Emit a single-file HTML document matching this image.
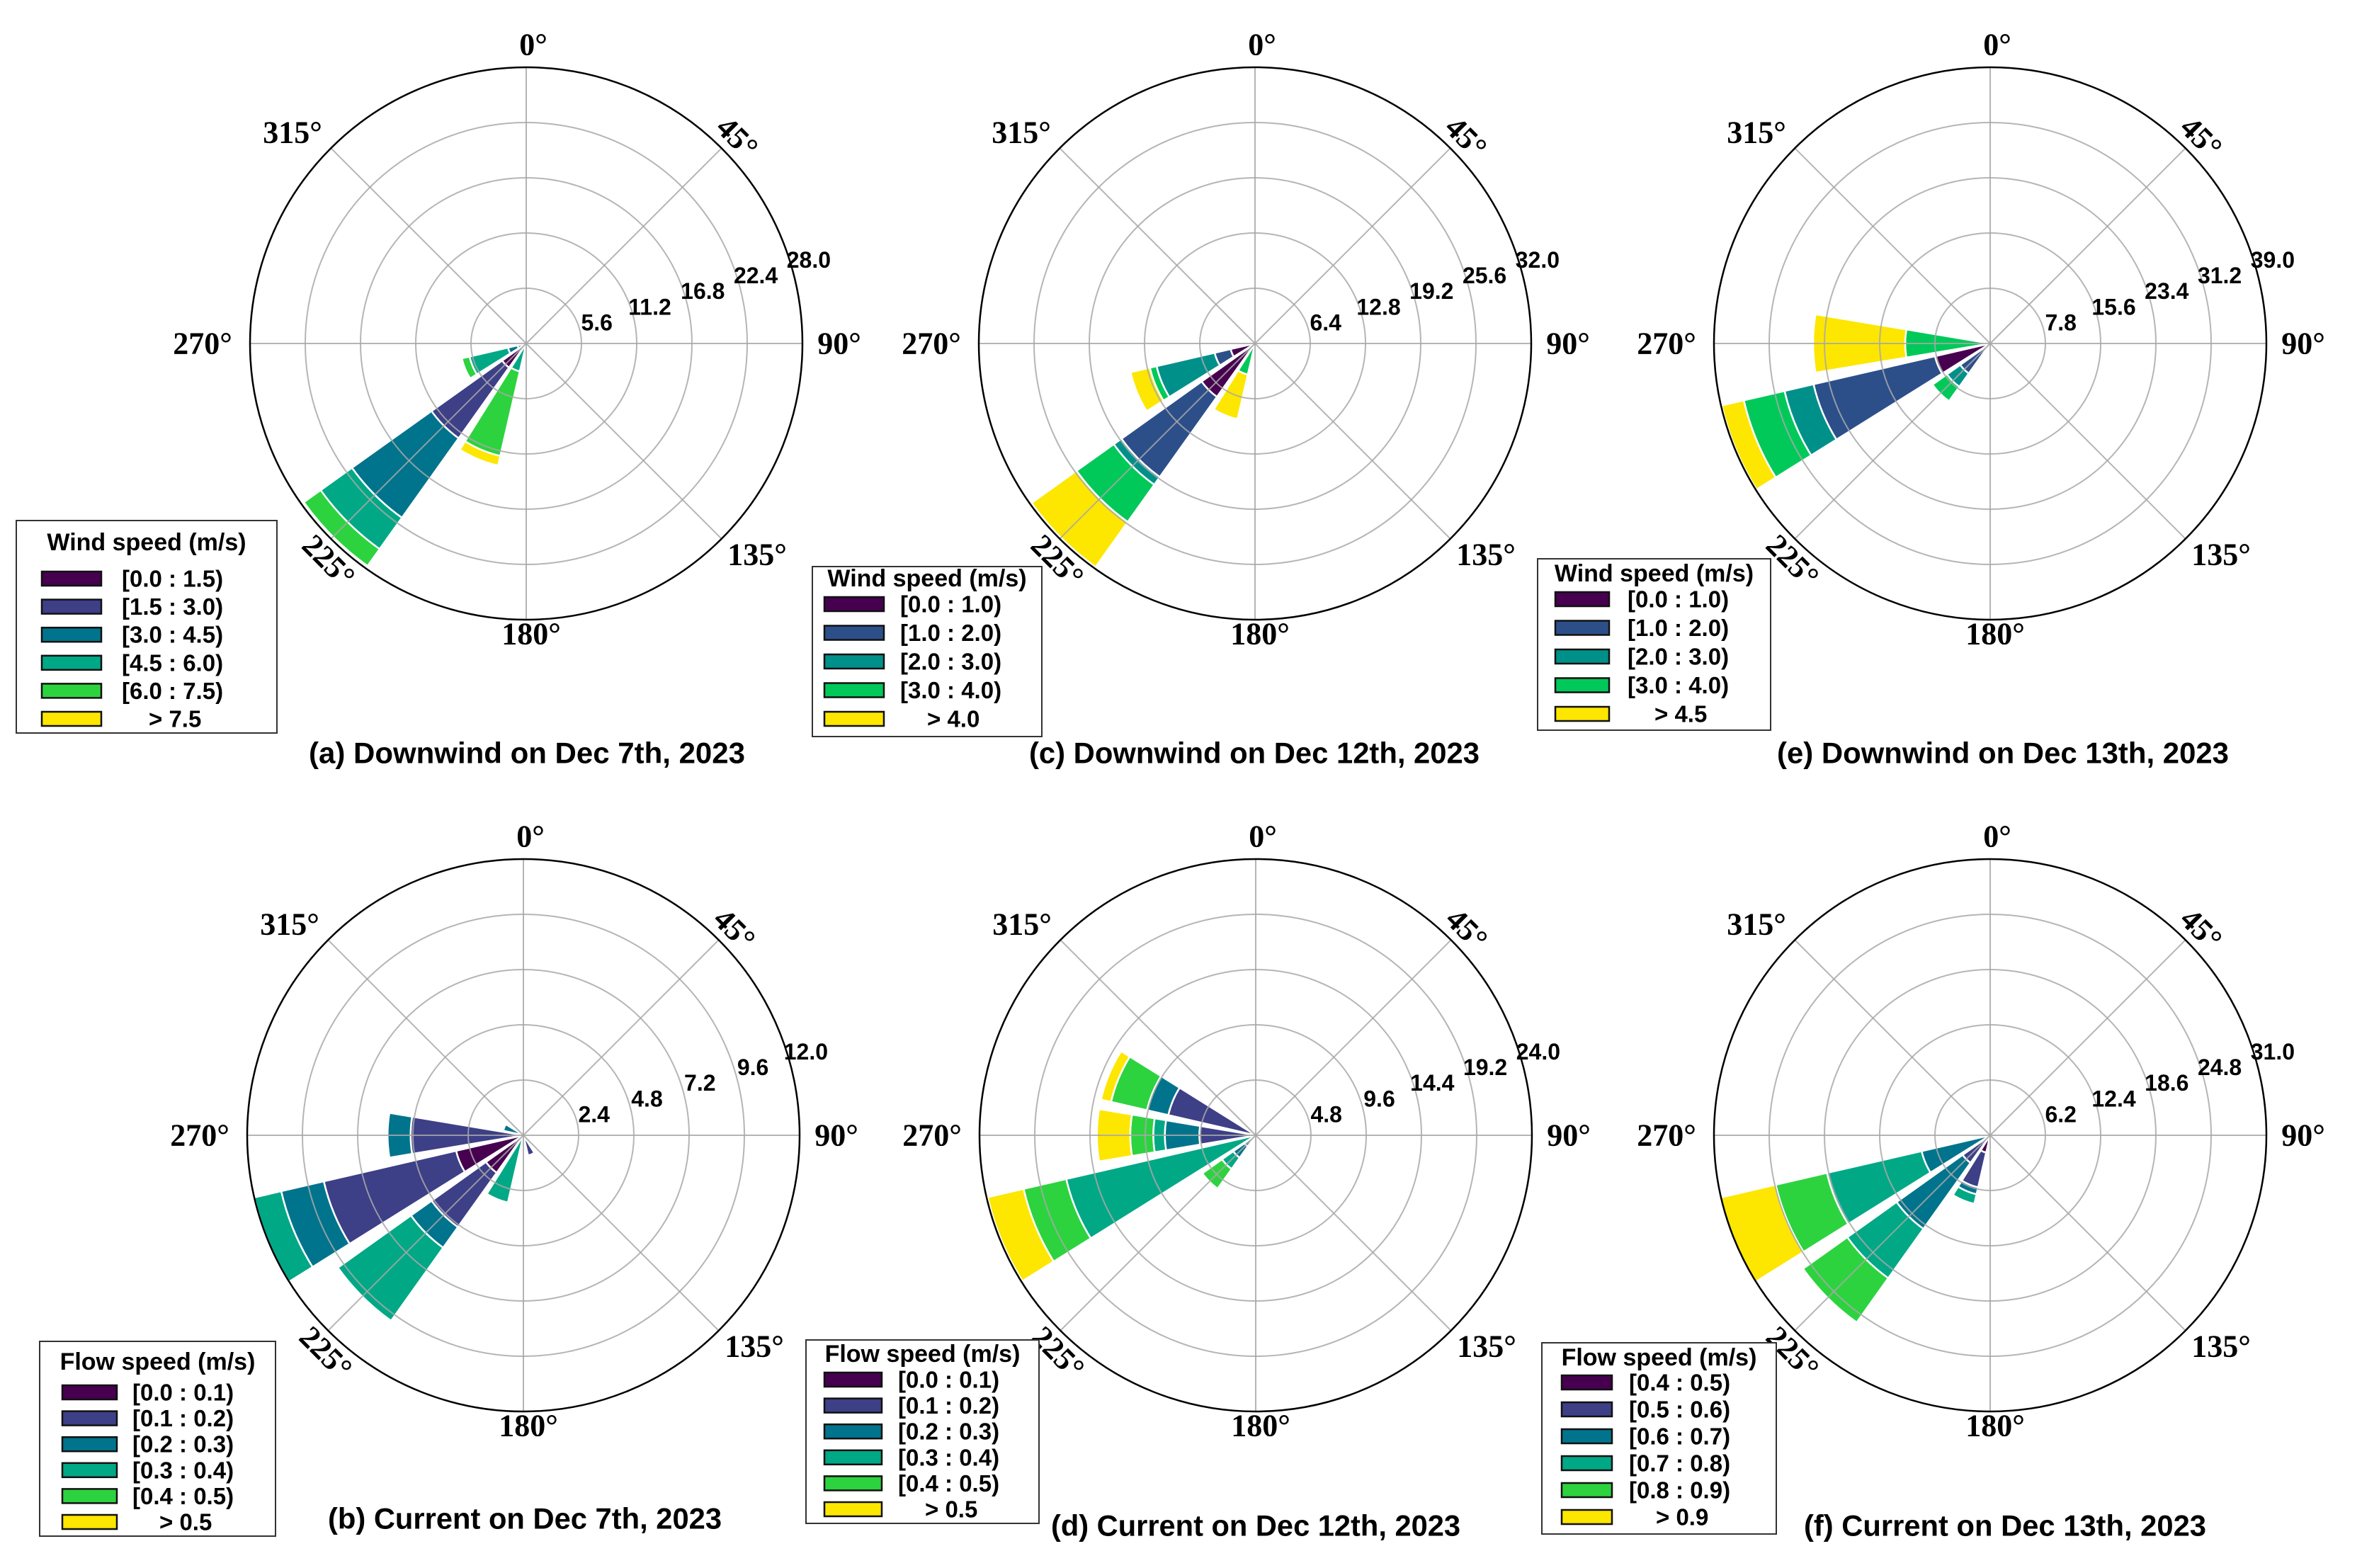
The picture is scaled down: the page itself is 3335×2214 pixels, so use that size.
<!DOCTYPE html>
<html><head><meta charset="utf-8"><style>
html,body{margin:0;padding:0;background:#fff;}
svg{display:block;}
</style></head>
<body>
<svg id="fig" xmlns="http://www.w3.org/2000/svg" width="3335" height="2214" viewBox="0 0 3335 2214"></svg>
<script>
// ---- data (frequency %, stacked per speed bin) ----
const aDirs = [202.5, 225, 247.5];
const aVals = [[0,0,0,2.9,8.8,1.0],[3.0,8.8,9.9,3.9,2.1,0],[0.5,0.4,1.0,4.0,0.8,0]];
const aTicks = [5.6, 11.2, 16.8, 22.4, 28.0];
const aBins = ['[0.0 : 1.5)','[1.5 : 3.0)','[3.0 : 4.5)','[4.5 : 6.0)','[6.0 : 7.5)','> 7.5'];

const cDirs = [202.5, 225, 247.5];
const cVals = [[0,0,0,3.7,5.3],[7.6,11.4,1.1,5.3,6.4],[2.9,1.9,6.9,0.8,2.3]];
const cTicks = [6.4, 12.8, 19.2, 25.6, 32.0];
const cBins = ['[0.0 : 1.0)','[1.0 : 2.0)','[2.0 : 3.0)','[3.0 : 4.0)','> 4.0'];

const eDirs = [225, 247.5, 270];
const eVals = [[0,5.2,2.3,2.5,0],[8.0,17.6,4.2,5.9,3.2],[0,0,0,12.0,13.0]];
const eTicks = [7.8, 15.6, 23.4, 31.2, 39.0];
const eBins = ['[0.0 : 1.0)','[1.0 : 2.0)','[2.0 : 3.0)','[3.0 : 4.0)','> 4.5'];

const bDirs = [157.5, 202.5, 225, 247.5, 270, 292.5];
const bVals = [[0,0.9,0,0,0,0],[0,0,0,3.0,0,0],[2.0,2.9,1.1,3.9,0,0],[3.0,5.9,1.9,1.2,0,0],[0.3,4.6,1.0,0,0,0],[0,0,0.9,0,0,0]];
const bTicks = [2.4, 4.8, 7.2, 9.6, 12.0];
const bBins = ['[0.0 : 0.1)','[0.1 : 0.2)','[0.2 : 0.3)','[0.3 : 0.4)','[0.4 : 0.5)','> 0.5'];

const dDirs = [225, 247.5, 270, 292.5];
const dVals = [[0,1.2,1.2,1.2,2.1,0],[0,0,0,16.9,3.8,3.2],[0,4.9,3.0,1.0,2.0,2.9],[0,7.8,1.9,0,3.2,0.9]];
const dTicks = [4.8, 9.6, 14.4, 19.2, 24.0];
const dBins = ['[0.0 : 0.1)','[0.1 : 0.2)','[0.2 : 0.3)','[0.3 : 0.4)','[0.4 : 0.5)','> 0.5'];

const fDirs = [202.5, 225, 247.5];
const fVals = [[2.0,4.0,0.8,1.1,0,0],[0,3.8,9.1,6.8,6.1,0],[0,0,7.9,10.9,5.9,6.4]];
const fTicks = [6.2, 12.4, 18.6, 24.8, 31.0];
const fBins = ['[0.4 : 0.5)','[0.5 : 0.6)','[0.6 : 0.7)','[0.7 : 0.8)','[0.8 : 0.9)','> 0.9'];

const pal6 = ['#46004f','#3d3f87','#00748c','#00a886','#2cd33e','#fde600'];
const pal5 = ['#46004f','#2c4f8a','#00908a','#00c95a','#fde600'];

const NS = 'http://www.w3.org/2000/svg';
const svg = document.getElementById('fig');
const R = 390, WEDGE = 19;

function mk(tag, attrs, parent){
  const e = document.createElementNS(NS, tag);
  for (const k in attrs) e.setAttribute(k, attrs[k]);
  (parent||svg).appendChild(e);
  return e;
}
function pt(cx, cy, r, deg){
  const t = deg*Math.PI/180;
  return [cx + r*Math.sin(t), cy - r*Math.cos(t)];
}
function wedgePath(cx, cy, r0, r1, a0, a1){
  const p1 = pt(cx,cy,r1,a0), p2 = pt(cx,cy,r1,a1);
  if (r0 <= 0.01) return `M${cx},${cy}L${p1[0]},${p1[1]}A${r1},${r1} 0 0 1 ${p2[0]},${p2[1]}Z`;
  const p3 = pt(cx,cy,r0,a1), p4 = pt(cx,cy,r0,a0);
  return `M${p4[0]},${p4[1]}L${p1[0]},${p1[1]}A${r1},${r1} 0 0 1 ${p2[0]},${p2[1]}L${p3[0]},${p3[1]}A${r0},${r0} 0 0 0 ${p4[0]},${p4[1]}Z`;
}

function drawPanel(p){
  const g = mk('g', {});
  
  
  const max = p.ticks[p.ticks.length-1];
  const rs = v => v / max * R;
  p.dirs.forEach((d, i) => {
    let acc = 0;
    p.vals[i].forEach((v, k) => {
      if (v <= 0) return;
      const path = mk('path', {d: wedgePath(p.cx, p.cy, rs(acc), rs(acc+v), d-WEDGE/2, d+WEDGE/2), fill: p.pal[k], stroke: '#fff', 'stroke-width': 2.5}, g);
      
      
      acc += v;
    });
  });
  p.ticks.forEach((t, k) => {
    if (k < p.ticks.length-1) {
      const c = mk('circle', {cx: p.cx, cy: p.cy, r: rs(t), fill: 'none', stroke: '#a8a8a8', 'stroke-width': 2, opacity: 0.85}, g);
      
      
    }
  });
  for (let a = 0; a < 360; a += 45) {
    const e = pt(p.cx, p.cy, R, a);
    const l = mk('line', {x1: p.cx, y1: p.cy, x2: e[0], y2: e[1], stroke: '#a8a8a8', 'stroke-width': 2, opacity: 0.85}, g);
    
    
  }
  const oc = mk('circle', {cx: p.cx, cy: p.cy, r: R, fill: 'none', stroke: '#000', 'stroke-width': 2.5}, g);
  
  
  p.ticks.forEach(t => {
    const q = pt(p.cx, p.cy, rs(t)+26, 73.5);
    const tx = mk('text', {x: q[0], y: q[1], 'text-anchor': 'middle', 'dominant-baseline': 'central', 'font-family': 'Liberation Sans, sans-serif', 'font-weight': 'bold', 'font-size': 32}, g);
    tx.textContent = t.toFixed(1);
    
    
  });
  const angs = [['0°',10,-422,0],['45°',298,-291,45],['90°',442,0,0],['135°',326,298,0],['180°',7,410,0],['225°',-279,307,45],['270°',-457,0,0],['315°',-330,-298,0]];
  angs.forEach(a => {
    const x = p.cx + a[1], y = p.cy + a[2];
    const tx = mk('text', {x: x, y: y, 'text-anchor': 'middle', 'dominant-baseline': 'central', 'font-family': 'Liberation Serif, serif', 'font-weight': 'bold', 'font-size': 44, transform: a[3] ? `rotate(${a[3]} ${x} ${y})` : ''}, g);
    tx.textContent = a[0];
    
    
  });
  const L = p.leg;
  const lg = mk('g', {}, g);
  
  
  mk('rect', {x: L.x, y: L.y, width: L.w, height: L.h, fill: '#fff', stroke: '#333', 'stroke-width': 2}, lg);
  const tt = mk('text', {x: L.x + L.w/2, y: L.ty, 'text-anchor': 'middle', 'dominant-baseline': 'central', 'font-family': 'Liberation Sans, sans-serif', 'font-weight': 'bold', 'font-size': 34}, lg);
  tt.textContent = p.legTitle;
  
  
  p.bins.forEach((b, k) => {
    const y = L.ry0 + k*L.dy;
    const sw = mk('rect', {x: L.sx, y: y-10, width: L.sw, height: 20, fill: p.pal[k], stroke: '#111', 'stroke-width': 2.5}, lg);
    
    
    const isGt = b.startsWith('>');
    const t = mk('text', {x: L.tx + (isGt ? 38 : 0), y: y, 'dominant-baseline': 'central', 'font-family': 'Liberation Sans, sans-serif', 'font-weight': 'bold', 'font-size': 33}, lg);
    t.textContent = b;
    
    
  });
  const ti = mk('text', {x: p.cx + p.tdx, y: p.ty, 'text-anchor': 'middle', 'dominant-baseline': 'central', 'font-family': 'Liberation Sans, sans-serif', 'font-weight': 'bold', 'font-size': 42, textLength: p.tw, lengthAdjust: 'spacingAndGlyphs'}, g);
  ti.textContent = p.title;
  
  
}

const panels = [
  {id:'a', cx:743, cy:485, dirs:aDirs, vals:aVals, ticks:aTicks, bins:aBins, pal:pal6, legTitle:'Wind speed (m/s)',
   leg:{x:23,y:735,w:368,h:300,ty:766,ry0:817,dy:39.6,sx:59,sw:84,tx:172}, title:'(a) Downwind on Dec 7th, 2023', tdx:1, ty:1063, tw:616},
  {id:'c', cx:1772, cy:485, dirs:cDirs, vals:cVals, ticks:cTicks, bins:cBins, pal:pal5, legTitle:'Wind speed (m/s)',
   leg:{x:1147,y:800,w:324,h:240,ty:817,ry0:853,dy:40.5,sx:1164,sw:84,tx:1271}, title:'(c) Downwind on Dec 12th, 2023', tdx:-1, ty:1063, tw:636},
  {id:'e', cx:2810, cy:485, dirs:eDirs, vals:eVals, ticks:eTicks, bins:eBins, pal:pal5, legTitle:'Wind speed (m/s)',
   leg:{x:2171,y:789,w:329,h:242,ty:810,ry0:846,dy:40.5,sx:2196,sw:76,tx:2298}, title:'(e) Downwind on Dec 13th, 2023', tdx:18, ty:1063, tw:638},
  {id:'b', cx:739, cy:1603, dirs:bDirs, vals:bVals, ticks:bTicks, bins:bBins, pal:pal6, legTitle:'Flow speed (m/s)',
   leg:{x:56,y:1894,w:333,h:275,ty:1923,ry0:1966,dy:36.6,sx:88,sw:77,tx:187}, title:'(b) Current on Dec 7th, 2023', tdx:2, ty:2144, tw:556},
  {id:'d', cx:1773, cy:1603, dirs:dDirs, vals:dVals, ticks:dTicks, bins:dBins, pal:pal6, legTitle:'Flow speed (m/s)',
   leg:{x:1138,y:1892,w:329,h:259,ty:1912,ry0:1948,dy:36.6,sx:1164,sw:81,tx:1268}, title:'(d) Current on Dec 12th, 2023', tdx:0, ty:2154, tw:578},
  {id:'f', cx:2810, cy:1603, dirs:fDirs, vals:fVals, ticks:fTicks, bins:fBins, pal:pal6, legTitle:'Flow speed (m/s)',
   leg:{x:2177,y:1896,w:331,h:270,ty:1917,ry0:1952,dy:38,sx:2205,sw:71,tx:2300}, title:'(f) Current on Dec 13th, 2023', tdx:21, ty:2154, tw:568}
];
panels.forEach(drawPanel);
</script>
</body></html>
